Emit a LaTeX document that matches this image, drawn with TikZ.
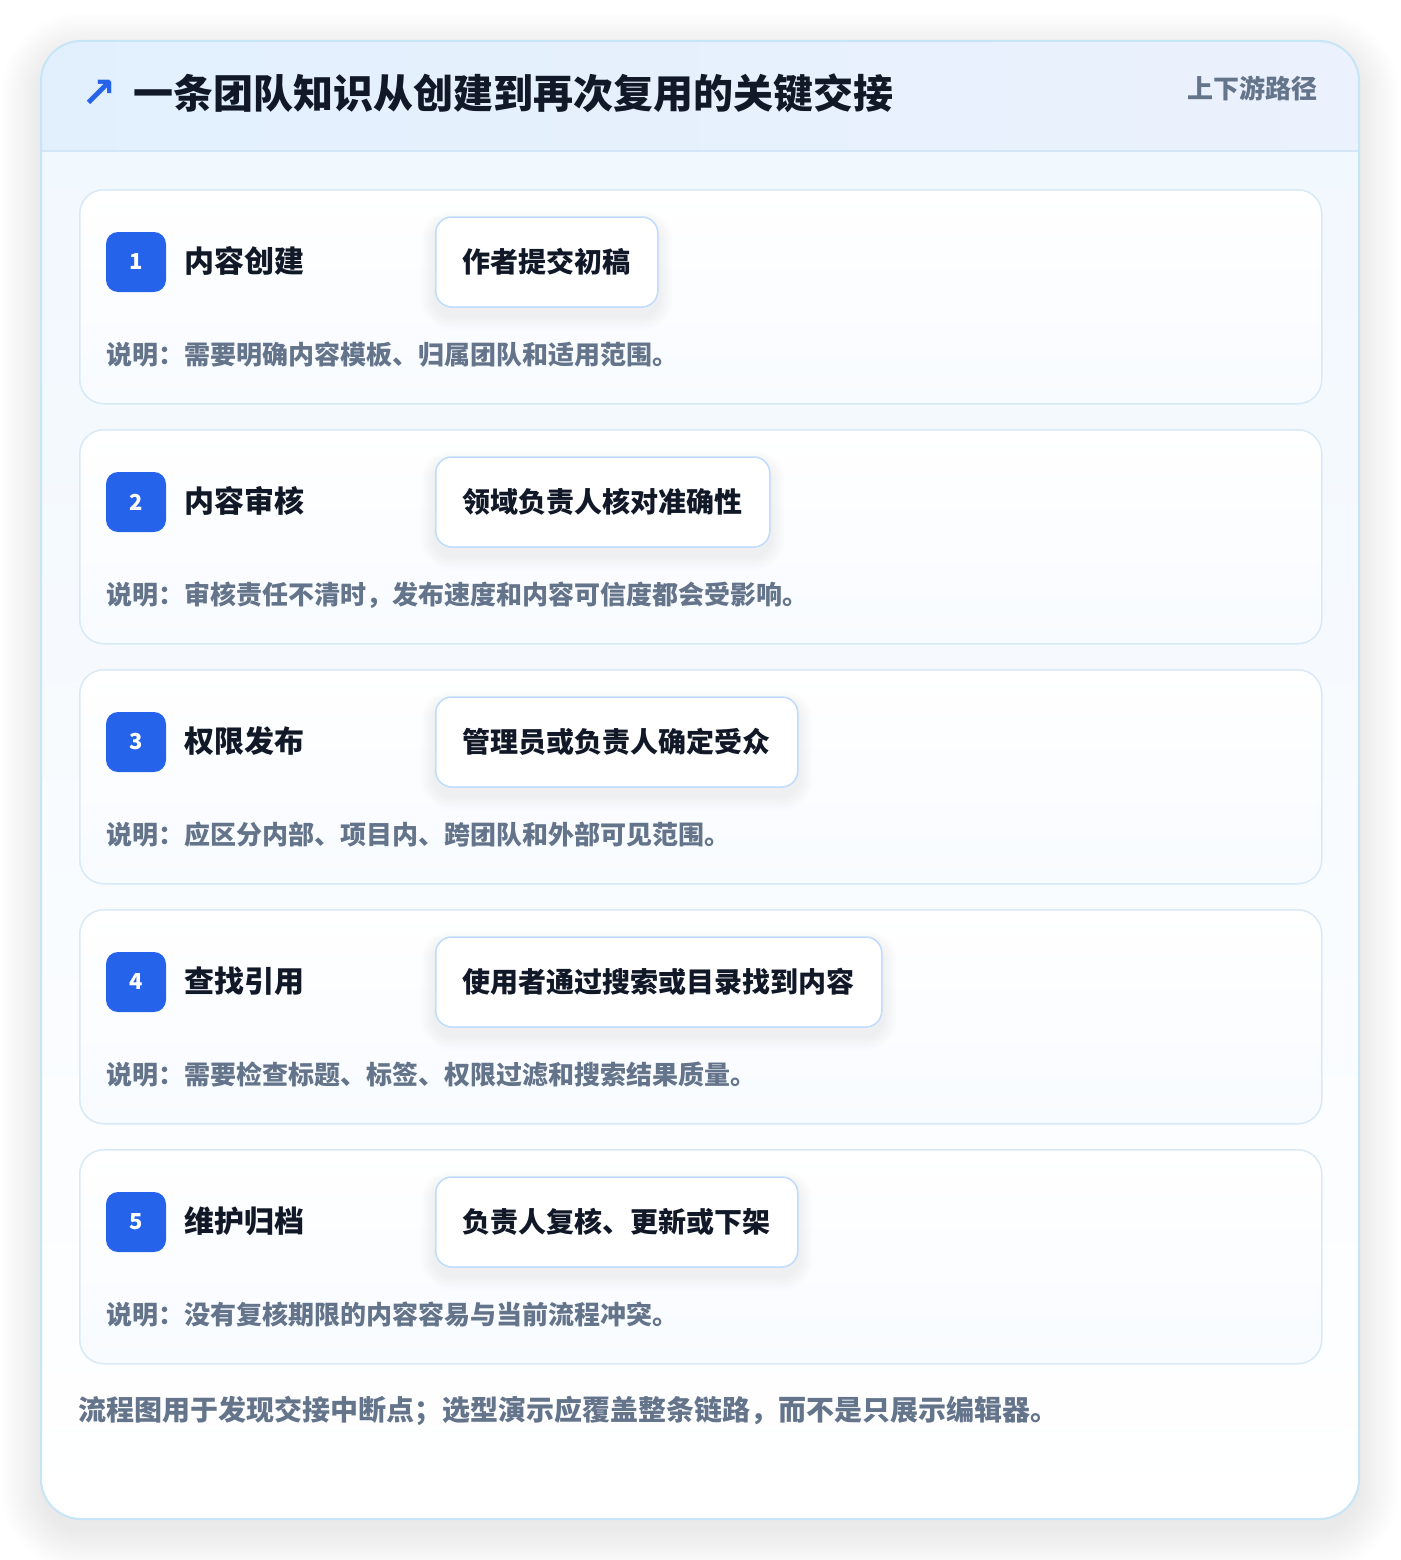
\documentclass[tikz,border=0pt]{standalone}
\usepackage{fontspec}
\newfontfamily\cjk{Noto Sans CJK SC}
\newfontfamily\dejavu{DejaVu Sans}
\definecolor{accent}{HTML}{2563EB}
\definecolor{ink}{HTML}{111827}
\definecolor{muted}{HTML}{64748B}
\definecolor{outerline}{HTML}{C6E5F7}
\definecolor{hdrL}{HTML}{E2F0FD}
\definecolor{hdrR}{HTML}{EBF1FD}
\definecolor{bodyT}{HTML}{F0F7FE}
\definecolor{divline}{HTML}{D3E6F7}
\definecolor{cardline}{HTML}{D8E9F8}
\definecolor{cardbot}{HTML}{F8FBFF}
\definecolor{actline}{HTML}{BFDBFE}
\pgfdeclarelayer{bg}
\pgfdeclarelayer{shadow}
\pgfsetlayers{bg,shadow,main}
\tikzset{
  cardbox/.style={draw=cardline,line width=1.5pt,rounded corners=24pt,top color=white,bottom color=cardbot,minimum width=1242pt,minimum height=214pt,inner sep=0pt,anchor=north west},
  badge/.style={fill=accent,rounded corners=12pt,minimum width=60pt,minimum height=60pt,inner sep=0pt,text=white,font=\cjk\bfseries\fontsize{22}{26}\selectfont},
  steptitle/.style={anchor=west,inner sep=0pt,text=ink,font=\cjk\bfseries\fontsize{30}{36}\selectfont},
  actbox/.style={draw=actline,line width=1.5pt,fill=white,rounded corners=16pt,minimum height=90pt,inner xsep=27pt,inner ysep=0pt,anchor=west,text=ink,font=\cjk\bfseries\fontsize{28}{34}\selectfont},
  desc/.style={anchor=west,inner sep=0pt,text=muted,font=\cjk\bfseries\fontsize{26}{32}\selectfont},
}
\begin{document}
\begin{tikzpicture}[x=1pt,y=-1pt]
\useasboundingbox (0,0) rectangle (1400,1560);
\begin{pgfonlayer}{bg}
\fill[white] (0,0) rectangle (1400,1560);
% outer shadow
\foreach \k in {0,2,...,40}{
  \pgfmathsetmacro\r{40+\k}
  \fill[black!70!blue,opacity=0.005,rounded corners=\r pt] (41-\k,53-\k) rectangle (1359+\k,1531+\k);
}
% outer card body
\shade[top color=bodyT,bottom color=white,rounded corners=40pt] (41,41) rectangle (1359,1519);
\begin{scope}
  \clip[rounded corners=40pt] (41,41) rectangle (1359,1519);
  \shade[left color=hdrL,right color=hdrR] (41,41) rectangle (1359,151);
  \draw[divline,line width=1.5pt] (41,151) -- (1359,151);
\end{scope}
\draw[outerline,line width=2pt,rounded corners=40pt] (41,41) rectangle (1359,1519);
\end{pgfonlayer}
% header
\node[anchor=center,inner sep=0pt,text=accent,font=\dejavu\bfseries\fontsize{42}{48}\selectfont] (arrow) at (99,94) {↗};
\node[anchor=west,inner sep=0pt,text=ink,font=\cjk\bfseries\fontsize{40}{48}\selectfont] (title) at (133,93) {一条团队知识从创建到再次复用的关键交接};
\node[anchor=east,inner sep=0pt,text=muted,font=\cjk\bfseries\fontsize{26}{32}\selectfont] (tag) at (1318,88) {上下游路径};
% steps
\foreach \i/\ttl/\act/\dsc in {
  1/内容创建/作者提交初稿/说明：需要明确内容模板、归属团队和适用范围。,
  2/内容审核/领域负责人核对准确性/说明：审核责任不清时，发布速度和内容可信度都会受影响。,
  3/权限发布/管理员或负责人确定受众/说明：应区分内部、项目内、跨团队和外部可见范围。,
  4/查找引用/使用者通过搜索或目录找到内容/说明：需要检查标题、标签、权限过滤和搜索结果质量。,
  5/维护归档/负责人复核、更新或下架/说明：没有复核期限的内容容易与当前流程冲突。}{
  \pgfmathsetmacro\y{189+(\i-1)*240}
  \begin{pgfonlayer}{bg}
  \node[cardbox] (card\i) at (79,\y) {};
  \end{pgfonlayer}
  \node[badge] (badge\i) at (136,\y+73) {\i};
  \node[steptitle] (title\i) at (184,\y+72) {\ttl};
  \node[actbox] (act\i) at (435,\y+73) {\act};
  % action box shadow
  \begin{pgfonlayer}{shadow}
  \foreach \s in {2,4,...,14}{
    \pgfmathsetmacro\rr{16+\s}
    \fill[black!60!blue,opacity=0.006,rounded corners=\rr pt]
      ([xshift=-\s pt,yshift=\s pt-8pt]act\i.north west) rectangle ([xshift=\s pt,yshift=-\s pt-8pt]act\i.south east);
  }
  \end{pgfonlayer}
  \node[desc] (desc\i) at (106,\y+166) {\dsc};
}
% footer
\node[anchor=west,inner sep=0pt,text=muted,font=\cjk\bfseries\fontsize{28}{34}\selectfont] (footer) at (78,1411) {流程图用于发现交接中断点；选型演示应覆盖整条链路，而不是只展示编辑器。};
\end{tikzpicture}
\end{document}
